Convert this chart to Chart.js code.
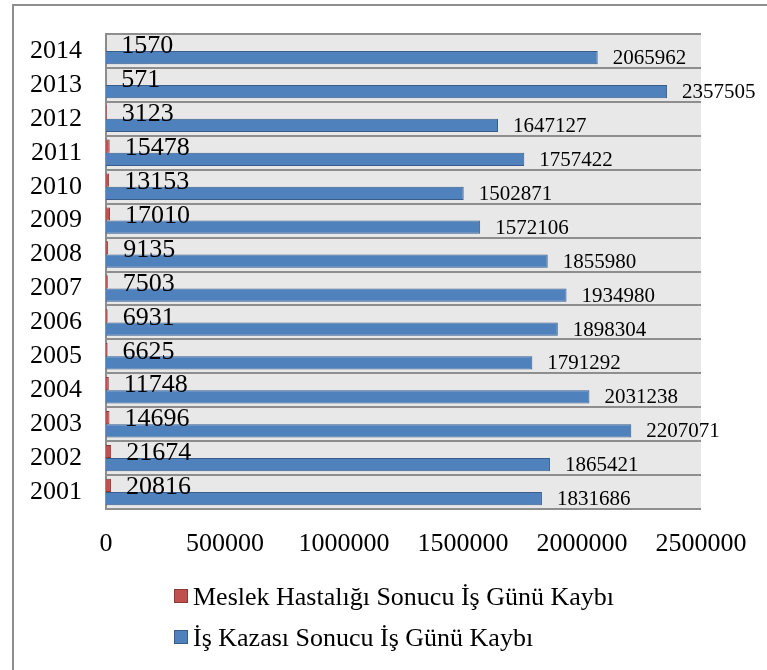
<!DOCTYPE html>
<html>
<head>
<meta charset="utf-8">
<script src="https://cdn.jsdelivr.net/npm/chart.js@4"></script>
<style>
  html, body { margin: 0; padding: 0; background: #fff; }
  #wrap { width: 767px; height: 670px; overflow: hidden; }
</style>
</head>
<body>
<div id="wrap"><canvas id="myBarChart" width="767" height="670"></canvas></div>
<script>
// yillar (ustten alta)
const years = ["2014", "2013", "2012", "2011", "2010", "2009", "2008", "2007", "2006", "2005", "2004", "2003", "2002", "2001"];
// Meslek hastaligi sonucu is gunu kaybi
const meslekValues = [1570, 571, 3123, 15478, 13153, 17010, 9135, 7503, 6931, 6625, 11748, 14696, 21674, 20816];
// Is kazasi sonucu is gunu kaybi
const kazaValues = [2065962, 2357505, 1647127, 1757422, 1502871, 1572106, 1855980, 1934980, 1898304, 1791292, 2031238, 2207071, 1865421, 1831686];
// x ekseni
const xTicks = [0, 500000, 1000000, 1500000, 2000000, 2500000];

const serif = "'Liberation Serif', 'Times New Roman', serif";

// arka plan + cerceve
const backgroundPlugin = {
  id: "bgFrame",
  beforeDraw(chart) {
    const { ctx, chartArea } = chart;
    ctx.save();
    ctx.fillStyle = "#ffffff";
    ctx.fillRect(0, 0, chart.width, chart.height);
    ctx.strokeStyle = "#8e8e8e";
    ctx.lineWidth = 2;
    ctx.beginPath();
    ctx.moveTo(13, chart.height + 2);
    ctx.lineTo(13, 5);
    ctx.lineTo(chart.width + 2, 5);
    ctx.stroke();
    ctx.fillStyle = "#e8e8e8";
    ctx.fillRect(chartArea.left, chartArea.top, chartArea.right - chartArea.left, chartArea.bottom - chartArea.top);
    ctx.restore();
  },
};

// veri etiketleri
const labelPlugin = {
  id: "valueLabels",
  afterDatasetsDraw(chart) {
    const { ctx } = chart;
    ctx.save();
    ctx.fillStyle = "#000";
    ctx.textAlign = "left";
    ctx.textBaseline = "middle";
    chart.data.datasets.forEach((ds, i) => {
      const meta = chart.getDatasetMeta(i);
      ctx.font = (i === 0 ? "26px " : "21px ") + serif;
      meta.data.forEach((bar, j) => {
        const dy = i === 0 ? 2 : 1;
        ctx.fillText(String(ds.data[j]), bar.x + 15, bar.y + dy);
      });
    });
    ctx.restore();
  },
};

// lejant (elle cizilir)
const legendPlugin = {
  id: "sideLegend",
  afterDraw(chart) {
    const { ctx } = chart;
    const items = [
      { text: chart.data.datasets[0].label, fill: "#c0504d", stroke: "#8c3836", y: 597 },
      { text: chart.data.datasets[1].label, fill: "#4f81bd", stroke: "#385d8a", y: 638 },
    ];
    ctx.save();
    ctx.font = "26px " + serif;
    ctx.textBaseline = "middle";
    ctx.textAlign = "left";
    items.forEach((it) => {
      ctx.fillStyle = it.fill;
      ctx.strokeStyle = it.stroke;
      ctx.lineWidth = 1;
      ctx.fillRect(174.5, it.y - 7.5, 13, 13);
      ctx.strokeRect(174.5, it.y - 7.5, 13, 13);
      ctx.fillStyle = "#000";
      ctx.fillText(it.text, 193, it.y + 1);
    });
    ctx.restore();
  },
};

const barCtx = document.getElementById("myBarChart");

new Chart(barCtx, {
  type: "bar",
  data: {
    labels: years,
    datasets: [
      {
        label: "Meslek Hastalığı Sonucu İş Günü Kaybı",
        data: meslekValues,
        backgroundColor: "#c0504d",
        borderColor: "#8c3836",
        borderWidth: 1,
        barPercentage: 1,
        categoryPercentage: 0.78,
      },
      {
        label: "İş Kazası Sonucu İş Günü Kaybı",
        data: kazaValues,
        backgroundColor: "#4f81bd",
        borderColor: "#385d8a",
        borderWidth: 1,
        barPercentage: 1,
        categoryPercentage: 0.78,
      },
    ],
  },
  options: {
    indexAxis: "y",
    responsive: false,
    animation: false,
    layout: { padding: { left: 0, right: 66, top: 34, bottom: 0 } },
    plugins: {
      legend: { display: false },
      tooltip: { enabled: false },
    },
    scales: {
      x: {
        min: 0,
        max: 2500000,
        afterBuildTicks: (s) => { s.ticks = xTicks.map((v) => ({ value: v })); },
        afterFit: (s) => { s.height = 161; },
        grid: { display: false, drawTicks: false },
        border: { display: false },
        ticks: {
          padding: 20,
          color: "#000",
          maxRotation: 0,
          autoSkip: false,
          font: { family: serif, size: 26 },
          callback: (v) => String(v),
        },
      },
      y: {
        afterFit: (s) => {
          s.width = 106;
          s.paddingTop = 0;
          s.paddingBottom = 0;
        },
        grid: { color: "#8e8e8e", lineWidth: 2, drawTicks: false },
        border: { color: "#8e8e8e", width: 2 },
        ticks: {
          padding: 24,
          autoSkip: false,
          color: "#000",
          font: { family: serif, size: 26 },
        },
      },
    },
  },
  plugins: [backgroundPlugin, labelPlugin, legendPlugin],
});
</script>
</body>
</html>
